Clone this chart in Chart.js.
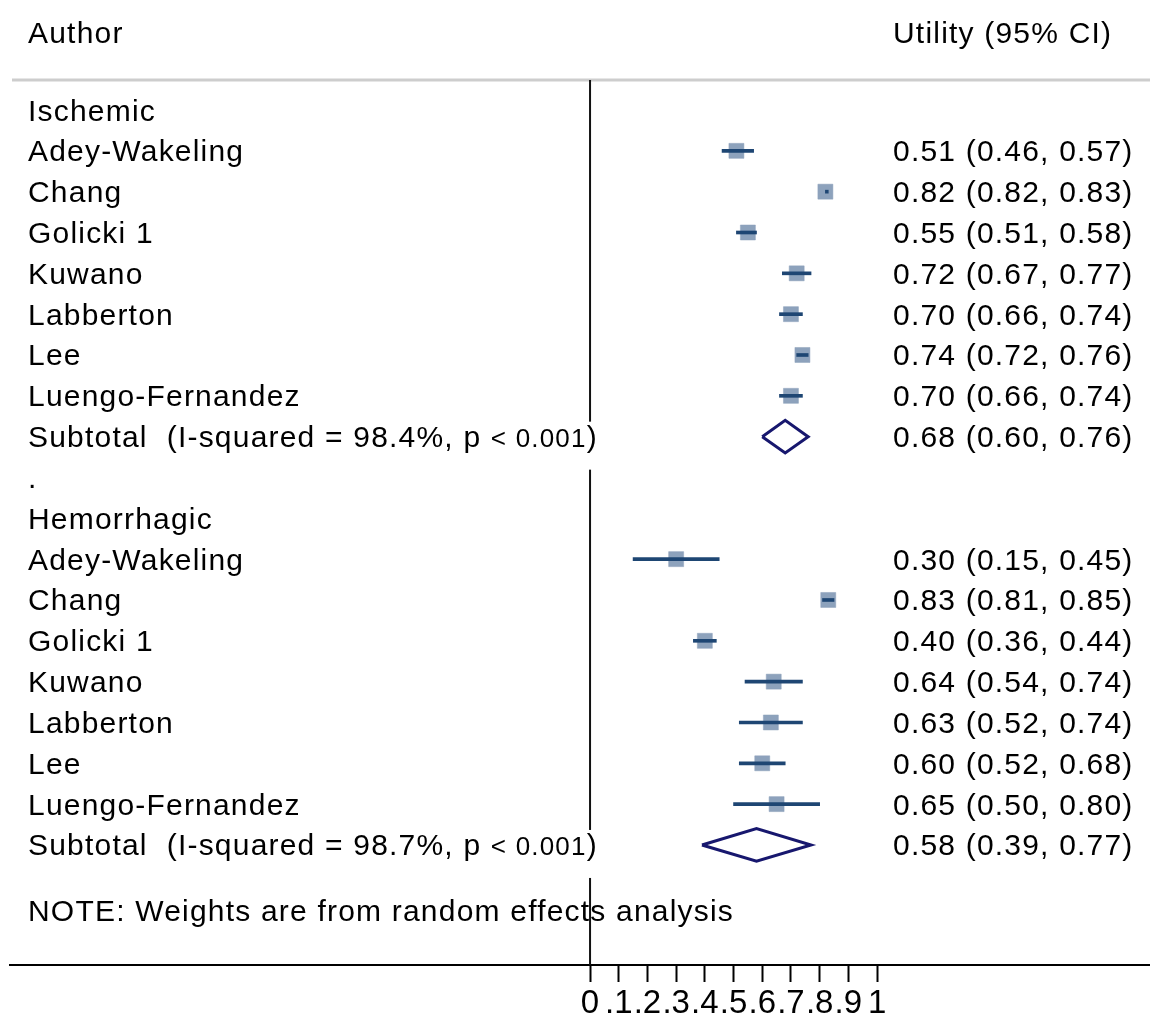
<!DOCTYPE html>
<html>
<head>
<meta charset="utf-8">
<script src="https://cdn.jsdelivr.net/npm/chart.js@4.4.1/dist/chart.umd.min.js"></script>
<style>
html,body{margin:0;padding:0;background:#fff;}
#forest{display:block;}
</style>
</head>
<body>
<canvas id="forest" width="1150" height="1017"></canvas>
<script>
// data
const groupNames = ["Ischemic", "Hemorrhagic"];
const authors = ["Adey-Wakeling", "Chang", "Golicki 1", "Kuwano", "Labberton", "Lee", "Luengo-Fernandez"];
const ischEst = [0.51, 0.82, 0.55, 0.72, 0.70, 0.74, 0.70];
const ischLo  = [0.46, 0.82, 0.51, 0.67, 0.66, 0.72, 0.66];
const ischHi  = [0.57, 0.83, 0.58, 0.77, 0.74, 0.76, 0.74];
const hemEst  = [0.30, 0.83, 0.40, 0.64, 0.63, 0.60, 0.65];
const hemLo   = [0.15, 0.81, 0.36, 0.54, 0.52, 0.52, 0.50];
const hemHi   = [0.45, 0.85, 0.44, 0.74, 0.74, 0.68, 0.80];
const subEst = [0.68, 0.58];
const subLo  = [0.60, 0.39];
const subHi  = [0.76, 0.77];
const iSquared = ["98.4%", "98.7%"];
const pText = "< 0.001";
const tickValues = [0, 0.1, 0.2, 0.3, 0.4, 0.5, 0.6, 0.7, 0.8, 0.9, 1];
const tickLabels = ["0", ".1", ".2", ".3", ".4", ".5", ".6", ".7", ".8", ".9", "1"];
const noteText = "NOTE: Weights are from random effects analysis";

// layout of rows (row index on the y scale)
const groupStart = [0, 10];
const separatorRow = 9;
const noteRow = 19.6;
const yMin = -0.735, yMax = 20.94;
const xMin = -2.021, xMax = 1.951;
const diamondHalf = 0.4;

const FONT = '"Liberation Sans", Arial, Helvetica, sans-serif';
const groups = [
  {est: ischEst, lo: ischLo, hi: ischHi},
  {est: hemEst, lo: hemLo, hi: hemHi}
];

const boxes = [], cis = [], diamonds = [];
groups.forEach((g, gi) => {
  g.est.forEach((v, i) => {
    const row = groupStart[gi] + 1 + i;
    boxes.push({x: v, y: row});
    cis.push({x: [g.lo[i], g.hi[i]], y: row});
  });
  const r = groupStart[gi] + 8;
  diamonds.push([
    {x: subLo[gi], y: r}, {x: subEst[gi], y: r - diamondHalf},
    {x: subHi[gi], y: r}, {x: subEst[gi], y: r + diamondHalf}, {x: subLo[gi], y: r}
  ]);
});

function fmt(v){ return v.toFixed(2); }
function ciText(e, l, h){ return `${fmt(e)} (${fmt(l)}, ${fmt(h)})`; }

const textPlugin = {
  id: "forestText",
  beforeDatasetsDraw(chart){
    const ctx = chart.ctx, top = chart.chartArea.top;
    ctx.save();
    ctx.strokeStyle = "#cdcdcd";
    ctx.lineWidth = 3;
    ctx.beginPath();
    ctx.moveTo(12, top);
    ctx.lineTo(1150, top);
    ctx.stroke();
    ctx.restore();
  },
  afterDatasetsDraw(chart){
    const ctx = chart.ctx, ys = chart.scales.y;
    const leftX = 28, rightX = 893, fs = 30;
    const base = row => ys.getPixelForValue(row) + 10.5;
    ctx.save();
    ctx.fillStyle = "#000";
    ctx.textBaseline = "alphabetic";
    ctx.textAlign = "left";
    if("letterSpacing" in ctx) ctx.letterSpacing = "1.2px";
    ctx.font = `${fs}px ${FONT}`;
    ctx.fillText("Author", leftX, 42.5);
    ctx.fillText("Utility (95% CI)", rightX, 42.5);
    groups.forEach((g, gi) => {
      const s = groupStart[gi];
      ctx.font = `${fs}px ${FONT}`;
      ctx.fillText(groupNames[gi], leftX, base(s));
      authors.forEach((a, i) => {
        ctx.fillText(a, leftX, base(s + 1 + i));
        ctx.fillText(ciText(g.est[i], g.lo[i], g.hi[i]), rightX, base(s + 1 + i));
      });
      // subtotal row
      const r = s + 8, by = base(r);
      const parts = [[`Subtotal  (I-squared = ${iSquared[gi]}, p `, fs], [pText, 26], [")", fs]];
      let w = 0;
      parts.forEach(p => { ctx.font = `${p[1]}px ${FONT}`; w += ctx.measureText(p[0]).width; });
      ctx.fillStyle = "#fff";
      ctx.fillRect(leftX - 2, ys.getPixelForValue(r) - 15, w + 6, 48);
      ctx.fillStyle = "#000";
      let x = leftX;
      parts.forEach(p => {
        ctx.font = `${p[1]}px ${FONT}`;
        ctx.fillText(p[0], x, by);
        x += ctx.measureText(p[0]).width;
      });
      ctx.font = `${fs}px ${FONT}`;
      ctx.fillText(ciText(subEst[gi], subLo[gi], subHi[gi]), rightX, by);
    });
    ctx.fillText(".", leftX, base(separatorRow));
    ctx.fillText(noteText, leftX, base(noteRow));
    ctx.restore();
  }
};

const datasets = [
  {type: "line", data: [{x: 0, y: yMin}, {x: 0, y: yMax}], borderColor: "#111", borderWidth: 2,
   pointRadius: 0, fill: false, order: 4},
  {type: "scatter", data: boxes, pointStyle: "rect", pointRadius: 10.6, backgroundColor: "#8da2bc",
   borderColor: "rgba(141,162,188,0.5)", borderWidth: 1, order: 2},
  {type: "bar", indexAxis: "y", data: cis, barThickness: 3, backgroundColor: "#1e4673",
   borderWidth: 0, borderSkipped: false, order: 1}
];
diamonds.forEach(d => datasets.push({
  type: "line", data: d, borderColor: "#17176e", borderWidth: 3, pointRadius: 0,
  fill: false, tension: 0, borderJoinStyle: "miter", order: 0
}));

new Chart(document.getElementById("forest"), {
  type: "scatter",
  data: {datasets},
  plugins: [textPlugin],
  options: {
    responsive: false, animation: false,
    layout: {autoPadding: false, padding: {top: 80, left: 10, right: 0, bottom: 0}},
    plugins: {legend: {display: false}, tooltip: {enabled: false}},
    scales: {
      x: {
        type: "linear", min: xMin, max: xMax, offset: false, beginAtZero: false,
        afterBuildTicks: s => { s.ticks = tickValues.map(v => ({value: v})); },
        afterFit: s => { s.height = 52; },
        ticks: {color: "#000", autoSkip: false, maxRotation: 0, minRotation: 0, padding: 2,
                font: {family: FONT, size: 33}, callback: (v, i) => tickLabels[i]},
        grid: {offset: false, drawOnChartArea: false, drawTicks: true, tickLength: 17, tickColor: "#000", tickWidth: 2},
        border: {display: true, color: "#000", width: 2}
      },
      y: {type: "linear", min: yMin, max: yMax, reverse: true, display: false, offset: false,
          grid: {offset: false}}
    }
  }
});
</script>
</body>
</html>
